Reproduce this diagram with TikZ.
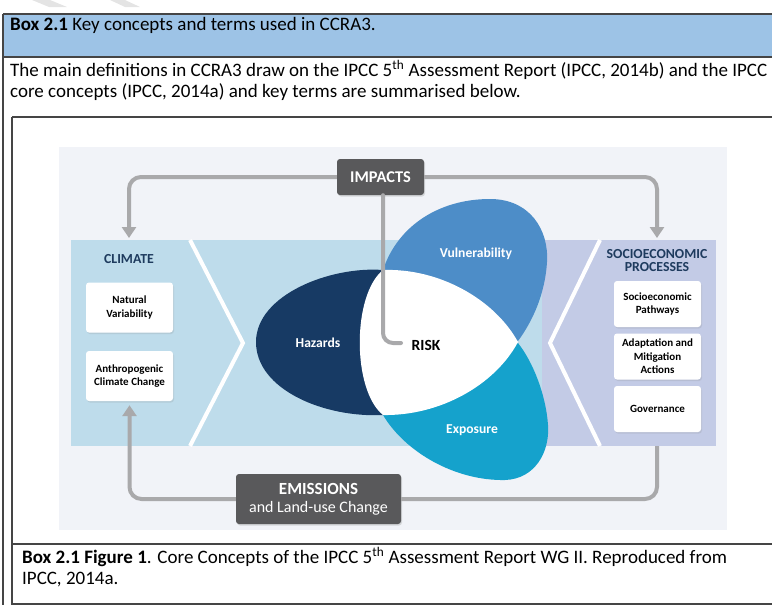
\documentclass[tikz,border=0pt]{standalone}
\usepackage{fontspec}
\setmainfont{Carlito}
\usetikzlibrary{arrows.meta,shadows}

\definecolor{headblue}{HTML}{9DC3E6}
\definecolor{rulegrey}{HTML}{454545}
\definecolor{stripegrey}{HTML}{E4E4E4}
\definecolor{figbg}{HTML}{F1F3F8}
\definecolor{climblue}{HTML}{BEDCEB}
\definecolor{socioblue}{HTML}{C3CBE6}
\definecolor{hazcol}{HTML}{173A64}
\definecolor{vulcol}{HTML}{4D8DC8}
\definecolor{expcol}{HTML}{15A2CC}
\definecolor{boxgrey}{HTML}{59595B}
\definecolor{conngrey}{HTML}{A9A9AB}
\definecolor{titlenavy}{HTML}{1E3B5E}

\tikzstyle{rule}=[draw=rulegrey,line width=1.2pt]
\tikzstyle{doctext}=[anchor=west,inner sep=0pt,font=\fontsize{19}{22}\selectfont]
\tikzstyle{darkbox}=[rectangle,rounded corners=3pt,fill=boxgrey,text=white,align=center,drop shadow={opacity=0.25,shadow xshift=1pt,shadow yshift=-1.5pt}]
\tikzstyle{whitebox}=[rectangle,rounded corners=3pt,fill=white,minimum width=87pt,align=center,font=\bfseries\fontsize{11}{13.5}\selectfont,drop shadow={opacity=0.18,shadow xshift=1pt,shadow yshift=-1.5pt}]
\tikzstyle{paneltitle}=[text=titlenavy,align=center,font=\bfseries\fontsize{13.8}{13}\selectfont]
\tikzstyle{petal}=[text=white,font=\bfseries\fontsize{13.6}{15}\selectfont]
\tikzstyle{conn}=[draw=conngrey,line width=4pt,rounded corners=12pt]
\tikzstyle{chevron}=[draw=white,line width=4pt]

\begin{document}
\begin{tikzpicture}[x=1pt,y=-1pt]
			\useasboundingbox (0,0) rectangle (772,605);
			\clip (0,0) rectangle (772,605);
			%Adding the page stripes
			\fill[stripegrey] (32,0) -- (50,0) -- (67,7) -- (49,7) -- cycle;
			\fill[stripegrey] (110,0) -- (125,0) -- (140,7) -- (125,7) -- cycle;
			%Adding the box frame
			\fill[headblue] (3,14) rectangle (780,57);
			\draw[rule] (3,14) -- (780,14);
			\draw[rule] (3,14) -- (3,610);
			\draw[rule] (3,57) -- (780,57);
			\draw[rule] (12,117) -- (780,117);
			\draw[rule] (12,117) -- (12,604) -- (780,604);
			\draw[rule] (12,544) -- (780,544);
			%Adding the box text
			\node[doctext] (boxhead) at (10,25) {\textbf{Box 2.1} Key concepts and terms used in CCRA3.};
			\node[doctext] (introa) at (10,70) {The main definitions in CCRA3 draw on the IPCC 5\textsuperscript{th} Assessment Report (IPCC, 2014b) and the IPCC};
			\node[doctext] (introb) at (10,92) {core concepts (IPCC, 2014a) and key terms are summarised below.};
			\node[doctext] (capa) at (22,557) {\textbf{Box 2.1 Figure 1}. Core Concepts of the IPCC 5\textsuperscript{th} Assessment Report WG II. Reproduced from};
			\node[doctext] (capb) at (22,580) {IPCC, 2014a.};
			%Adding the figure background and panels
			\fill[figbg] (59,147) rectangle (727,530);
			\fill[climblue] (71,240) rectangle (542,446);
			\fill[socioblue] (542,240) rectangle (716,446);
			\draw[chevron] (190,240) -- (243,343) -- (190,446);
			\draw[chevron] (600,240) -- (550,343) -- (600,446);
			%Adding the petals
			\fill[hazcol] (383,270) .. controls (330,266) and (256,295) .. (256,342)
				.. controls (256,390) and (325,418) .. (383,415) -- (420,342) -- cycle;
			\fill[vulcol] (383,270) .. controls (398,225) and (440,199) .. (490,199)
				.. controls (530,199) and (549,230) .. (547,262)
				.. controls (545,295) and (532,322) .. (518,341) -- cycle;
			\fill[expcol] (383,415) .. controls (405,452) and (455,481) .. (505,480)
				.. controls (535,479) and (550,452) .. (548,425)
				.. controls (546,395) and (533,362) .. (518,343) -- cycle;
			\fill[white] (383,270) .. controls (440,268) and (495,300) .. (518,342)
				.. controls (495,385) and (440,416) .. (383,415)
				.. controls (352,390) and (352,295) .. cycle;
			\node[petal] (hazards) at (318,343) {Hazards};
			\node[petal] (vuln) at (476,254) {Vulnerability};
			\node[petal] (expo) at (472,430) {Exposure};
			\node[font=\bfseries\fontsize{15.5}{16}\selectfont] (risk) at (426,345) {RISK};
			%Adding the panel titles and boxes
			\node[paneltitle] (climate) at (129,259) {CLIMATE};
			\node[paneltitle] (socio) at (657,261) {SOCIOECONOMIC\\PROCESSES};
			\foreach \pos/\name/\txt in {{(129.5,307.5)/natvar/Natural\\Variability},
										{(129.5,376)/anthro/Anthropogenic\\Climate Change}}
			\node[whitebox,minimum height=50pt] (\name) at \pos {\txt};
			\foreach \pos/\name/\txt in {{(657.5,304)/sopath/Socioeconomic\\Pathways},
										{(657.5,356.5)/adapt/Adaptation and\\Mitigation\\Actions},
										{(657.5,409)/gov/Governance}}
			\node[whitebox,minimum height=46pt] (\name) at \pos {\txt};
			\node[darkbox,minimum width=87pt,minimum height=36pt,font=\bfseries\fontsize{16.4}{18}\selectfont] (impacts) at (380.5,177) {IMPACTS};
			\node[darkbox,minimum width=165pt,minimum height=50pt,font=\fontsize{16}{18}\selectfont] (emissions) at (318.5,499) {\textbf{\fontsize{17}{18}\selectfont EMISSIONS}\\and Land-use Change};
			%Adding the connectors
			\coordinate (climin) at (129,238);
			\coordinate (socin) at (657,238);
			\coordinate (socout) at (657,446);
			\coordinate (riskin) at (401,343);
			\draw[conn,-{Triangle[length=11pt,width=14pt]}] (impacts.west) -| (climin);
			\draw[conn,-{Triangle[length=11pt,width=14pt]}] (impacts.east) -| (socin);
			\draw[conn,-{Triangle[length=11pt,width=14pt]},shorten >=4pt] (emissions.west) -| (anthro.south);
			\draw[conn] (emissions.east) -| (socout);
			\draw[conn,rounded corners=10pt,line cap=round] ([xshift=2.5pt]impacts.south) |- (riskin);
		\end{tikzpicture}
\end{document}
